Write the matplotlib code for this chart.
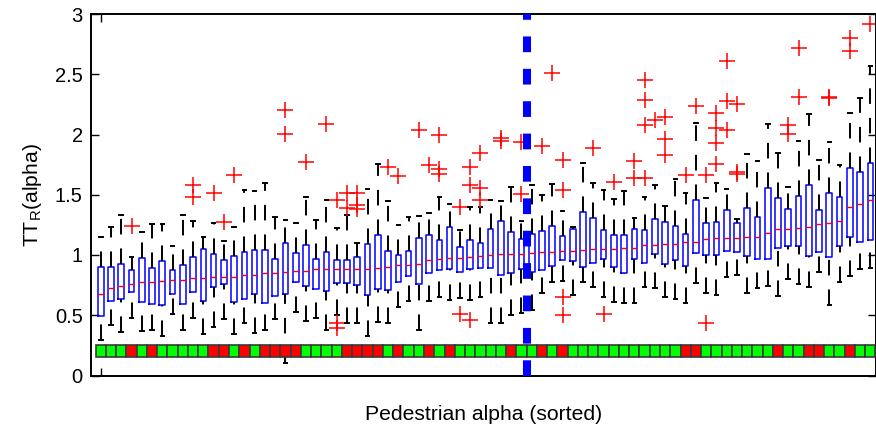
import numpy as np
import matplotlib
matplotlib.use('Agg')
import matplotlib.pyplot as plt

plt.rcParams['font.family'] = ['Liberation Sans', 'DejaVu Sans']

# box statistics, one entry per pedestrian (sorted by median)
med = [0.679, 0.723, 0.740, 0.756, 0.773, 0.773, 0.784, 0.795, 0.795, 0.806,
       0.812, 0.815, 0.815, 0.820, 0.831, 0.837, 0.851, 0.853, 0.862, 0.870,
       0.870, 0.881, 0.881, 0.881, 0.881, 0.887, 0.887, 0.895, 0.898, 0.914,
       0.920, 0.928, 0.961, 0.967, 0.973, 0.978, 0.983, 0.992, 1.003, 1.006,
       1.006, 1.006, 1.014, 1.025, 1.028, 1.033, 1.033, 1.042, 1.047, 1.053,
       1.053, 1.055, 1.055, 1.080, 1.086, 1.088, 1.094, 1.105, 1.111, 1.135,
       1.141, 1.144, 1.144, 1.147, 1.152, 1.180, 1.216, 1.216, 1.227, 1.235,
       1.257, 1.268, 1.279, 1.401, 1.420, 1.456]
q1 = [0.497, 0.621, 0.632, 0.692, 0.607, 0.593, 0.588, 0.676, 0.596, 0.692,
      0.618, 0.737, 0.756, 0.610, 0.637, 0.678, 0.602, 0.663, 0.678, 0.776,
      0.743, 0.715, 0.701, 0.768, 0.771, 0.751, 0.668, 0.715, 0.710, 0.776,
      0.825, 0.762, 0.851, 0.876, 0.881, 0.862, 0.887, 0.889, 0.895, 0.837,
      0.848, 0.887, 0.862, 0.876, 0.909, 0.956, 0.950, 0.903, 0.931, 0.967,
      0.903, 0.848, 0.964, 0.931, 1.008, 0.928, 0.959, 0.912, 1.014, 1.003,
      1.000, 1.036, 1.025, 0.992, 0.970, 0.970, 1.061, 1.077, 1.077, 0.992,
      1.028, 0.986, 1.075, 1.147, 1.105, 1.124]
q3 = [0.898, 0.898, 0.922, 0.876, 0.977, 0.894, 0.947, 0.876, 0.917, 0.986,
      1.047, 1.005, 0.958, 0.992, 1.022, 1.039, 1.039, 0.964, 1.097, 1.019,
      1.083, 0.964, 1.028, 0.958, 0.958, 0.986, 1.091, 1.169, 1.036, 0.997,
      1.036, 1.141, 1.163, 1.127, 1.235, 1.069, 1.122, 1.097, 1.218, 1.282,
      1.188, 1.133, 1.174, 1.196, 1.238, 1.161, 1.213, 1.357, 1.304, 1.205,
      1.169, 1.166, 1.213, 1.205, 1.299, 1.277, 1.241, 1.177, 1.457, 1.268,
      1.271, 1.371, 1.268, 1.387, 1.313, 1.556, 1.476, 1.382, 1.487, 1.578,
      1.376, 1.512, 1.484, 1.719, 1.691, 1.766]
whislo = [0.295, 0.419, 0.364, 0.474, 0.369, 0.378, 0.328, 0.510, 0.378, 0.474,
          0.342, 0.405, 0.469, 0.342, 0.433, 0.350, 0.378, 0.469, 0.101, 0.524,
          0.455, 0.480, 0.378, 0.502, 0.433, 0.433, 0.328, 0.447, 0.438, 0.571,
          0.619, 0.378, 0.619, 0.649, 0.627, 0.640, 0.627, 0.654, 0.438, 0.438,
          0.499, 0.521, 0.544, 0.682, 0.779, 0.784, 0.668, 0.779, 0.732, 0.654,
          0.613, 0.605, 0.599, 0.732, 0.729, 0.654, 0.632, 0.599, 0.770, 0.682,
          0.665, 0.815, 0.834, 0.687, 0.723, 0.743, 0.660, 0.798, 0.760, 0.732,
          0.862, 0.585, 0.779, 0.826, 0.881, 0.890]
whishi = [1.152, 1.235, 1.331, 0.986, 1.194, 1.257, 1.257, 1.077, 1.331, 1.279,
          1.150, 1.268, 1.120, 1.235, 1.540, 1.534, 1.595, 1.318, 1.290, 1.263,
          1.484, 1.290, 1.457, 1.221, 1.332, 1.100, 1.545, 1.752, 1.445, 1.246,
          1.313, 1.324, 1.351, 1.484, 1.423, 1.210, 1.401, 1.400, 1.454, 1.451,
          1.561, 1.285, 1.581, 1.498, 1.589, 1.368, 1.235, 1.761, 1.600, 1.540,
          1.462, 1.534, 1.304, 1.479, 1.581, 1.410, 1.631, 1.518, 2.093, 1.470,
          1.600, 1.548, 1.299, 1.838, 1.780, 2.084, 1.844, 1.567, 1.949, 2.167,
          1.785, 1.941, 1.744, 2.181, 2.305, 2.568]
fliers = [[], [], [], [1.241], [], [], [], [], [], [1.581, 1.484],
          [], [1.512], [1.274], [1.664], [], [], [], [], [2.203, 2.001], [],
          [1.774], [], [2.087], [1.457, 0.437, 0.394], [1.517, 1.387],
          [1.517, 1.415, 1.379], [], [], [1.733], [1.655],
          [], [2.037], [1.744], [1.996, 1.715, 1.672], [], [1.395, 0.508],
          [1.733, 1.581, 0.463], [1.848, 1.560, 1.457], [], [1.97, 1.95],
          [], [1.94, 1.505], [], [1.907], [2.507], [1.788, 1.540, 0.654, 0.502],
          [], [], [1.891], [0.513],
          [1.608], [], [1.777, 1.636], [2.452, 2.286, 2.079, 1.636], [2.120],
          [2.142, 1.962, 1.834], [], [1.664], [2.237], [1.664, 0.433],
          [2.181, 2.051, 1.927, 1.758], [2.612, 2.281, 2.037], [2.250, 1.692, 1.673],
          [], [], [], [], [2.079, 2.004], [2.715, 2.309], [],
          [], [2.31, 2.30], [], [2.798, 2.696], [], [2.917]]

# colour strip under the boxes (G = green, R = red)
strip = list("GGGRGRGGGG" "GRRGRGRRRR" "GGGGRRRRGR" "GGRGRGGGGG"
             "RGGRGRGGGG" "GGGGGGGRRG" "GGGGGGRGGR" "RGGRGG")
split = 42.5

yticks = [0, 0.5, 1, 1.5, 2, 2.5, 3]
ytick_labels = ['0', '0.5', '1', '1.5', '2', '2.5', '3']

positions = np.arange(1, len(med) + 1)
stats = []
for i in range(len(med)):
    stats.append({'med': med[i], 'q1': q1[i], 'q3': q3[i],
                  'whislo': whislo[i], 'whishi': whishi[i], 'fliers': fliers[i]})

fig = plt.figure(figsize=(8.76, 4.33), dpi=100)
ax = fig.add_axes([91 / 876, 57.5 / 433, 785.5 / 876, 361.5 / 433])

parts = ax.bxp(stats, positions=positions, widths=0.55, capwidths=0.35,
               manage_ticks=False,
               boxprops=dict(color='blue', lw=1.1),
               medianprops=dict(color='red', lw=1.0),
               whiskerprops=dict(color='black', lw=1.4, linestyle=(0, (8.0, 7.2))),
               capprops=dict(color='black', lw=1.4),
               flierprops=dict(marker='+', markeredgecolor='red', markersize=12,
                               markeredgewidth=1.1, linestyle='none'))

# matlab draws the lower whisker starting at its end
for k, line in enumerate(parts['whiskers'][0::2]):
    line.set_ydata([whislo[k], q1[k]])

ax.plot([split, split], [0, 3], color='blue', lw=5.8, dashes=(1.95, 2.07), zorder=5)

colors = ['#00ff00' if s == 'G' else '#ff0000' for s in strip]
ax.bar(positions, 0.097, bottom=0.157, width=1, color=colors,
       edgecolor='#3a3a3a', linewidth=1.2, zorder=6)

ax.set_xlim(0.05, 76.6)
ax.set_ylim(0, 3)
ax.set_yticks(yticks)
ax.set_yticklabels(ytick_labels)
ax.set_xticks([1])
ax.set_xticklabels([])
ax.tick_params(direction='in', length=5.8, width=1, top=True, right=True,
               labelsize=14.5, pad=6)
for s in ax.spines.values():
    s.set_linewidth(1.4)

ax.set_xlabel('Pedestrian alpha (sorted)', fontsize=15.2, labelpad=15)
ax.set_ylabel(r'TT$_{\mathregular{R}}$(alpha)', fontsize=15.2, labelpad=8)

fig.savefig('out.png', dpi=100)
